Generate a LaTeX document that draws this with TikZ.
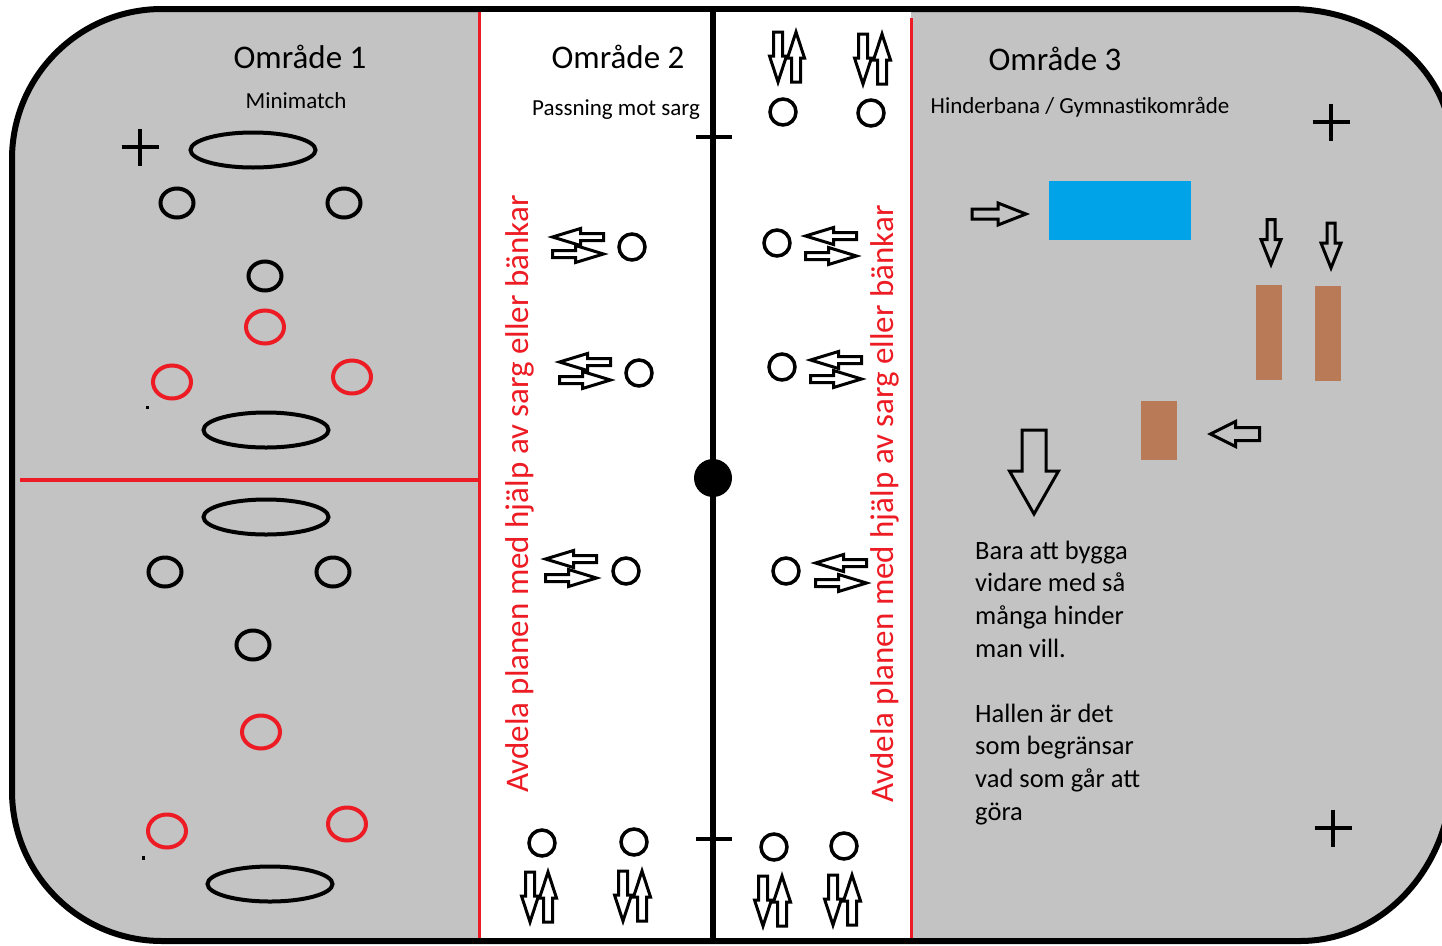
\documentclass[tikz,border=0pt]{standalone}
\usepackage{fontspec}
\setmainfont{Carlito}
\usepackage{tikz}
\usetikzlibrary{shapes.geometric}

\definecolor{rinkgray}{RGB}{195,195,195}
\definecolor{paintred}{RGB}{237,28,36}
\definecolor{paintblue}{RGB}{0,162,232}
\definecolor{paintbrown}{RGB}{185,122,87}

\tikzset{
  % block arrow pointing along x: length, shaft width, head width, head length
  pics/barrow/.style n args={4}{code={%
    \draw[arrowline] (-#1/2,-#2/2) -- ({#1/2-#4},-#2/2) -- ({#1/2-#4},-#3/2) -- (#1/2,0)
      -- ({#1/2-#4},#3/2) -- ({#1/2-#4},#2/2) -- (-#1/2,#2/2) -- cycle;
  }},
  pics/plusmark/.style={code={%
    \draw[line width=4.5pt] (-18.5,0) -- (18.5,0) (0,-18.5) -- (0,18.5);
  }}
}

\begin{document}
\begin{tikzpicture}[x=1pt, y=-1pt,
    cone/.style={draw, ellipse, line width=4pt, minimum width=33pt, minimum height=29pt, inner sep=0pt},
    redcone/.style={cone, draw=paintred, minimum width=38pt, minimum height=33pt},
    player/.style={draw, circle, line width=3.5pt, minimum size=26pt, inner sep=0pt},
    goal/.style={draw, ellipse, line width=4pt, minimum width=125pt, minimum height=35pt, inner sep=0pt},
    block/.style={inner sep=0pt, outer sep=0pt},
    arrowline/.style={line width=3pt, line join=miter},
    heading/.style={font=\fontsize{33}{40}\selectfont, inner sep=0pt, anchor=base},
    subheading/.style={font=\fontsize{23}{28}\selectfont, inner sep=0pt, anchor=base},
    sidetext/.style={font=\fontsize{33}{40}\selectfont, text=paintred, inner sep=0pt, anchor=base west, rotate=90},
    notetext/.style={font=\fontsize{26.5}{32.6}\selectfont, inner sep=0pt, anchor=base west, align=left}
  ]
  \useasboundingbox (0,0) rectangle (1442,945);

  % rink
  \filldraw[fill=rinkgray, line width=6pt]
    (162,9) -- (1290,9)
    .. controls (1379.5,9) and (1452,71.7) .. (1452,149)
    -- (1452,773)
    .. controls (1452,865.8) and (1384,941) .. (1300,941)
    -- (162,941)
    .. controls (79.2,941) and (12,873.8) .. (12,791)
    -- (12,159)
    .. controls (12,76.2) and (79.2,9) .. (162,9) -- cycle;
  \fill[white] (479,12) rectangle (911,938);
  \draw[paintred, line width=3pt] (479,12) -- (479,938);
  \draw[paintred, line width=3pt] (911,18) -- (911,938);
  \draw[paintred, line width=3.5pt] (20,480) -- (481,480);

  % centre line
  \draw[line width=6.5pt] (713,9) -- (713,941);
  \draw[line width=4pt] (696,137) -- (732,137);
  \draw[line width=4pt] (696,839) -- (732,839);
  \node[circle, fill=black, minimum size=38pt, inner sep=0pt] (face) at (713,478) {};

  % Område 1
  \node[heading] (t1) at (300,68) {Område 1};
  \node[subheading] (s1) at (296,108) {Minimatch};
  \pic at (140,147) {plusmark};
  \node[goal] (g1) at (253,150) {};
  \node[cone] (c1) at (177,203) {};
  \node[cone] (c2) at (344,203) {};
  \node[cone] (c3) at (265,276) {};
  \node[redcone] (r1) at (265,327) {};
  \node[redcone] (r2) at (172,382) {};
  \node[redcone] (r3) at (352,377) {};
  \node[goal] (g2) at (266,430) {};
  \fill (145.5,406) rectangle (148.5,409);

  \node[goal] (g3) at (266,517) {};
  \node[cone] (c4) at (165,572) {};
  \node[cone] (c5) at (333,572) {};
  \node[cone] (c6) at (253,645) {};
  \node[redcone] (r4) at (261,732) {};
  \node[redcone] (r5) at (167,831) {};
  \node[redcone] (r6) at (347,824) {};
  \node[goal] (g4) at (270,884) {};
  \fill (141.5,856) rectangle (144.5,860);

  % Område 2
  \node[heading] (t2) at (618,68) {Område 2};
  \node[subheading] (s2) at (616,115) {Passning mot sarg};
  \node[sidetext] (div1) at (528,793) {Avdela planen med hjälp av sarg eller bänkar};
  \node[sidetext] (div2) at (893,803) {Avdela planen med hjälp av sarg eller bänkar};

  \node[player] (p1) at (632,247) {};
  \node[player] (p2) at (639,373) {};
  \node[player] (p3) at (626,571) {};
  \node[player] (p4) at (777,243) {};
  \node[player] (p5) at (782,367) {};
  \node[player] (p6) at (786,571) {};
  \foreach \x/\ya/\yb in {578/237/254, 585/362/380, 571/559/578, 831/236/256, 836/360/379, 841/563/583} {
    \pic[rotate=180] at (\x,\ya) {barrow={51}{7}{17}{28}};
    \pic at (\x,\yb) {barrow={51}{7}{17}{28}};
  }

  \node[player] (p7) at (783,112) {};
  \node[player] (p8) at (871,113) {};
  \node[player] (p9) at (542,843) {};
  \node[player] (p10) at (634,842) {};
  \node[player] (p11) at (774,847) {};
  \node[player] (p12) at (844,846) {};
  \foreach \xa/\xb/\y in {778/796/57, 863/882/59, 530/548/897, 623/642/896, 763/782/901, 833/852/900} {
    \pic[rotate=-90] at (\xa,\y) {barrow={50}{9}{17}{26}};
    \pic[rotate=90] at (\xb,\y) {barrow={50}{9}{17}{26}};
  }

  % Område 3
  \node[heading] (t3) at (1055,70) {Område 3};
  \node[subheading] (s3) at (1080,113) {Hinderbana / Gymnastikområde};
  \pic at (1331,122) {plusmark};
  \pic at (1333,828) {plusmark};
  \node[block, fill=paintblue, minimum width=142pt, minimum height=59pt] (mat) at (1120,210.5) {};
  \node[block, fill=paintbrown, minimum width=26pt, minimum height=95pt] (bench1) at (1269,332.5) {};
  \node[block, fill=paintbrown, minimum width=26pt, minimum height=95pt] (bench2) at (1328,333.5) {};
  \node[block, fill=paintbrown, minimum width=36pt, minimum height=59pt] (box) at (1159,430.5) {};
  \pic at (999,214) {barrow={54}{10}{22}{28}};
  \pic[rotate=-90] at (1271,242) {barrow={45}{8}{20}{25}};
  \pic[rotate=-90] at (1331,245.5) {barrow={45}{8}{20}{25}};
  \pic[rotate=180] at (1235,434) {barrow={49}{13}{25}{25}};
  \pic[rotate=-90] at (1034,472) {barrow={84}{24}{49}{43}};
  \node[notetext] (note) at (975,820) {Bara att bygga\\vidare med så\\många hinder\\man vill.\\[32.6pt]Hallen är det\\som begränsar\\vad som går att\\göra};
\end{tikzpicture}
\end{document}
